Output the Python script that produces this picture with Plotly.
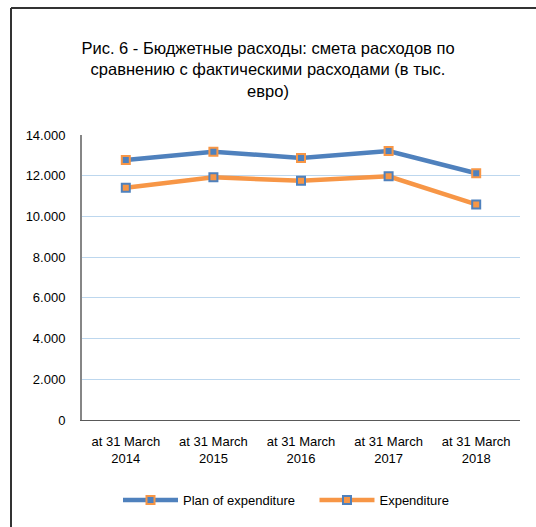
import plotly.graph_objects as go

categories = ["at 31 March<br>2014", "at 31 March<br>2015", "at 31 March<br>2016",
              "at 31 March<br>2017", "at 31 March<br>2018"]
plan_values = [12770, 13180, 12870, 13210, 12120]
expenditure_values = [11410, 11920, 11750, 11970, 10590]
y_tick_values = [0, 2000, 4000, 6000, 8000, 10000, 12000, 14000]

BLUE = "#4F81BD"
ORANGE = "#F79646"
FONT = "Liberation Sans, Arial, sans-serif"

fig = go.Figure()
fig.add_trace(go.Scatter(
    x=categories, y=plan_values, name="Plan of expenditure    ", mode="lines+markers",
    line=dict(color=BLUE, width=4.5),
    marker=dict(symbol="square", size=8, color=BLUE, line=dict(color=ORANGE, width=2)),
))
fig.add_trace(go.Scatter(
    x=categories, y=expenditure_values, name="Expenditure", mode="lines+markers",
    line=dict(color=ORANGE, width=4.5),
    marker=dict(symbol="square", size=8, color=ORANGE, line=dict(color=BLUE, width=2)),
))

W, H = 536, 527
L, R, T, B = 82, 16, 135, 107
pw, ph = W - L - R, H - T - B

def px_x(x):
    return (x - L) / pw

def px_y(y):
    return (H - B - y) / ph

fig.update_layout(
    width=W, height=H,
    margin=dict(l=L, r=R, t=T, b=B),
    paper_bgcolor="white", plot_bgcolor="white",
    separators=",.",
    font=dict(family=FONT, size=13, color="#000000"),
    title=dict(
        text="Рис. 6 - Бюджетные расходы: смета расходов по<br>сравнению с фактическими расходами (в тыс.<br>евро)",
        x=0.5, xanchor="center", xref="container",
        y=1 - 54 / H, yanchor="middle", yref="container",
        font=dict(family=FONT, size=16.5, color="#000000"),
    ),
    showlegend=True,
    legend=dict(
        orientation="h", x=px_x(286), xanchor="center", y=px_y(500), yanchor="middle",
        font=dict(family=FONT, size=13, color="#000000"),
        itemwidth=55, bgcolor="rgba(0,0,0,0)",
    ),
    xaxis=dict(
        type="category", range=[-0.5, 4.5],
        showgrid=False, showline=True, linecolor="#595959", linewidth=1,
        ticks="", ticklabelstandoff=9, tickfont=dict(family=FONT, size=13, color="#000000"),
        zeroline=False,
    ),
    yaxis=dict(
        range=[0, 14000], tickvals=y_tick_values, tickformat=",d",
        showgrid=True, gridcolor="#BDD7EE", gridwidth=1,
        showline=True, linecolor="#868686", linewidth=2,
        ticks="", ticklabelstandoff=12, tickfont=dict(family=FONT, size=13, color="#000000"),
        zeroline=False,
    ),
    shapes=[
        dict(type="line", xref="paper", yref="paper",
             x0=px_x(11), x1=px_x(W + 20), y0=px_y(8), y1=px_y(8),
             line=dict(color="#333333", width=2)),
        dict(type="line", xref="paper", yref="paper",
             x0=px_x(11), x1=px_x(11), y0=px_y(8), y1=px_y(H + 20),
             line=dict(color="#333333", width=2)),
    ],
)

fig.write_html(
    "out.html",
    config={"displayModeBar": False},
    post_script=(
        "var st=document.createElement('style');"
        "st.textContent='html,body{margin:0;padding:0;overflow:hidden;height:527px;width:536px;}"
        "::-webkit-scrollbar{display:none;width:0;height:0;}';"
        "document.head.appendChild(st);"
    ),
)
